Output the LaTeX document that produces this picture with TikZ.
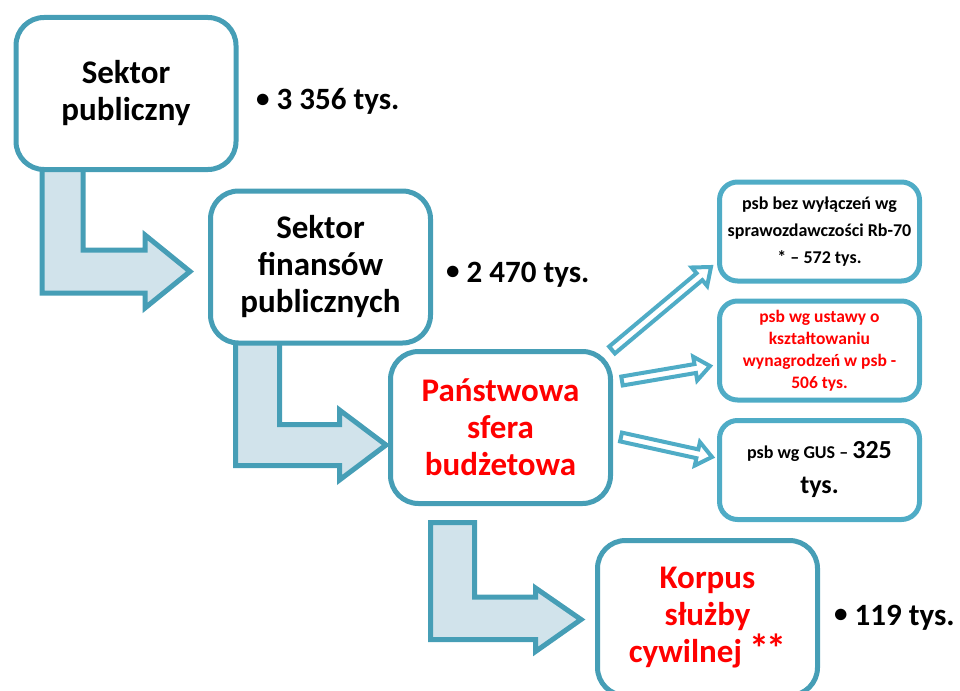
\documentclass[tikz,border=0pt]{standalone}
\usepackage{fontspec}
\setmainfont{Carlito}
\usetikzlibrary{calc}

\definecolor{boxline}{RGB}{70,158,182}
\definecolor{smallline}{RGB}{79,172,198}
\definecolor{arrowfill}{RGB}{209,227,235}
\definecolor{hot}{RGB}{255,0,0}

\tikzset{
  bigbox/.style={draw=boxline, line width=5pt, rounded corners=28pt, fill=white,
    minimum width=220pt, minimum height=152pt, align=center, inner sep=0pt,
    font=\fontsize{33}{37}\selectfont\bfseries},
  smallbox/.style={draw=smallline, line width=5pt, rounded corners=18pt, fill=white,
    minimum width=200pt, minimum height=99pt, align=center, inner sep=0pt,
    font=\bfseries},
  bentarrow/.style={draw=boxline, fill=arrowfill, line width=5pt, line join=miter},
  thinarrow/.style={draw=smallline, fill=white, line width=4pt, line join=miter},
  count/.style={anchor=base west, inner sep=0pt, font=\fontsize{31}{37}\selectfont\bfseries},
  hotred/.style={text=hot}
}

% list bullet in front of the counts
\newcommand\cbullet{{\fontsize{27}{27}\selectfont\raisebox{2.5pt}{•}}\hspace{7pt}}
% footnote marks after "cywilnej"
\newcommand\stars{{\fontsize{40}{37}\selectfont*\kern-3pt*}}

% hollow block arrow from #1 to #2 (shaft half width 4.5pt, head half width 12pt, head 15pt)
\newcommand\hollowarrow[2]{%
  \draw[thinarrow] let \p1=($(#2)-(#1)$), \n1={atan2(\y1,\x1)}, \n2={veclen(\x1,\y1)-15} in
    ($(#1)+(\n1+90:4.5pt)$)
    -- ($(#1)+(\n1:\n2)+(\n1+90:4.5pt)$)
    -- ($(#1)+(\n1:\n2)+(\n1+90:12pt)$)
    -- (#2)
    -- ($(#1)+(\n1:\n2)+(\n1-90:12pt)$)
    -- ($(#1)+(\n1:\n2)+(\n1-90:4.5pt)$)
    -- ($(#1)+(\n1-90:4.5pt)$) -- cycle;}

\begin{document}
\begin{tikzpicture}[x=1pt, y=-1pt]
\useasboundingbox (0,0) rectangle (960,690);

% bent block arrows between the levels
\draw[bentarrow] (42,165) -- (83,165) -- (83,250) -- (145,250) -- (145,235)
  -- (190,271.5) -- (145,308) -- (145,293) -- (42,293) -- cycle;
\draw[bentarrow] (235.5,335) -- (279.5,335) -- (279.5,424.5) -- (339.5,424.5) -- (339.5,410)
  -- (386,445) -- (339.5,480) -- (339.5,465.5) -- (235.5,465.5) -- cycle;
\draw[bentarrow] (430.5,522.5) -- (474.5,522.5) -- (474.5,597) -- (535.5,597) -- (535.5,588)
  -- (581,619.5) -- (535.5,651.5) -- (535.5,639.5) -- (430.5,639.5) -- cycle;

% main levels
\node[bigbox] (pub) at (126,93.5) {Sektor\\publiczny};
\node[bigbox] (sfp) at (320.5,267) {Sektor\\finansów\\publicznych};
\node[bigbox, hotred] (psb) at (500.5,427.5) {Państwowa\\sfera\\budżetowa};
\node[bigbox, hotred, minimum height=155pt] (ksc) at (707.5,618) {Korpus\\służby\\cywilnej \stars};

% psb variants
\node[smallbox, font=\fontsize{18}{27}\selectfont\bfseries] (rb) at (819.5,231.5)
  {psb bez wyłączeń wg\\sprawozdawczości Rb-70\\* – 572 tys.};
\node[smallbox, hotred, font=\fontsize{17.5}{22}\selectfont\bfseries] (ust) at (819.5,350.5)
  {psb wg ustawy o\\kształtowaniu\\wynagrodzeń w psb -\\506 tys.};
\node[smallbox, font=\fontsize{18}{35}\selectfont\bfseries] (gus) at (819.5,470)
  {psb wg GUS – {\fontsize{26}{35}\selectfont 325}\\{\fontsize{26}{35}\selectfont tys.}};

% counts
\node[count] (c1) at (256,110) {\cbullet 3 356 tys.};
\node[count] (c2) at (446,282) {\cbullet 2 470 tys.};
\node[count] (c3) at (834,625) {\cbullet 119 tys.};

% arrows from psb to its variants
\coordinate (t1) at (612,350);
\coordinate (h1) at (711,267);
\coordinate (t2) at (622,381);
\coordinate (h2) at (710,366);
\coordinate (t3) at (621,437);
\coordinate (h3) at (712,457);
\hollowarrow{t1}{h1}
\hollowarrow{t2}{h2}
\hollowarrow{t3}{h3}
\end{tikzpicture}
\end{document}
